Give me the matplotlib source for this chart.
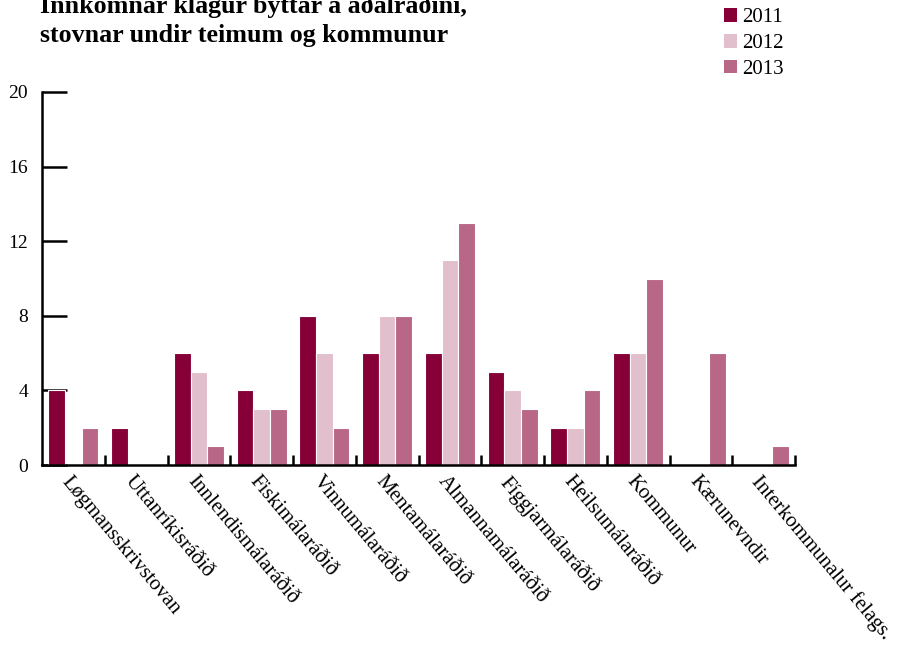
import numpy as np
import matplotlib.pyplot as plt
from matplotlib.patches import Patch

plt.rcParams['font.family'] = ['Liberation Serif', 'DejaVu Serif']

# ── Data ──────────────────────────────────────────────────────────────────────
categories = ["Løgmansskrivstovan", "Uttanríkisráðið", "Innlendismálaráðið",
              "Fiskimálaráðið", "Vinnumálaráðið", "Mentamálaráðið",
              "Almannamálaráðið", "Fíggjarmálaráðið", "Heilsumálaráðið",
              "Kommunur", "Kærunevndir", "Interkommunalur felags."]
years = ["2011", "2012", "2013"]
v2011 = [4, 2, 6, 4, 8, 6, 6, 5, 2, 6, 0, 0]
v2012 = [0, 0, 5, 3, 6, 8, 11, 4, 2, 6, 0, 0]
v2013 = [2, 0, 1, 3, 2, 8, 13, 3, 4, 10, 6, 1]
yticks = [0, 4, 8, 12, 16, 20]

colors = ["#860037", "#e2bfcc", "#b96787"]

fig = plt.figure(figsize=(8.98, 6.52), dpi=100)
ax = fig.add_axes([42 / 898, 1 - 465 / 652, (795 - 42) / 898, (465 - 92) / 652])

x = np.arange(len(categories))
w = 0.265
for i, (vals, col) in enumerate(zip([v2011, v2012, v2013], colors)):
    ax.bar(x + (i - 1) * w, vals, width=w, color=col, edgecolor='white',
           linewidth=0.8, zorder=2)

ax.set_xlim(-0.5, len(categories) - 0.5)
ax.set_ylim(0, 20)
ax.set_yticks(yticks)
ax.set_yticklabels([str(t) for t in yticks], fontsize=14)
ax.tick_params(axis='y', direction='in', length=18, width=1.8, pad=10)

# category boundary ticks on x axis, labels at centres
ax.set_xticks(np.arange(len(categories)) + 0.5)
ax.set_xticklabels([])
ax.tick_params(axis='x', direction='in', length=7, width=1.8)
for xi, lbl in zip(x, categories):
    ax.text(xi - 0.02, -0.4, lbl, rotation=-50, rotation_mode='anchor',
            ha='left', va='top', fontsize=15)

for s in ['top', 'right']:
    ax.spines[s].set_visible(False)
for s in ['left', 'bottom']:
    ax.spines[s].set_linewidth(1.8)

fig.text(40 / 898, 1 - 47 / 652,
         "Innkomnar klagur býttar á aðalráðini,\nstovnar undir teimum og kommunur",
         fontsize=18.7, fontweight='bold', ha='left', va='bottom', linespacing=1.35)

handles = [Patch(facecolor=c, edgecolor='none') for c in colors]
fig.legend(handles, years, loc='upper left', bbox_to_anchor=(707 / 898, 1 + 9 / 652),
           frameon=False, fontsize=15, handlelength=0.65, handleheight=0.65,
           handletextpad=0.25, labelspacing=0.32, borderpad=0.3)

fig.savefig("out.png", dpi=100)
